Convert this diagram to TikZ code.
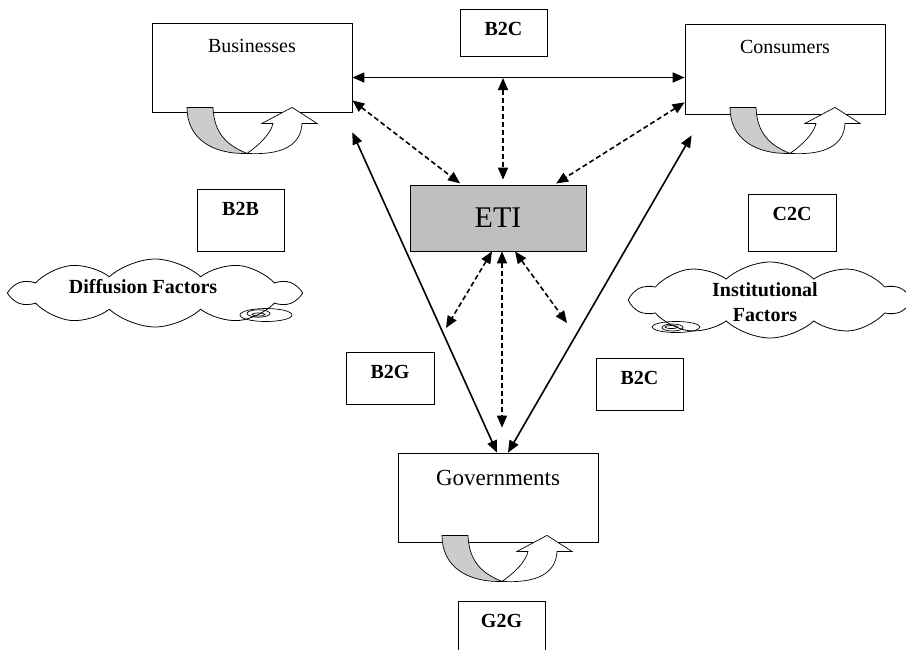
\documentclass[tikz,border=0pt]{standalone}
\usepackage{fontspec}
\setmainfont{Liberation Serif}
\usepackage{tikz}
\usetikzlibrary{shapes.symbols, arrows.meta}
\newcommand{\actorfont}{\fontsize{20}{24}\selectfont}
\newcommand{\dealfont}{\fontsize{20}{25}\selectfont\bfseries}
\tikzstyle{actor} = [rectangle, minimum width=200pt, minimum height=89pt, draw=black, line width=0.8pt]
\tikzstyle{actortext} = [anchor=center, yshift=-23pt, font=\actorfont, inner sep=0pt]
\tikzstyle{platform} = [rectangle, minimum width=176pt, minimum height=66pt, draw=black, line width=0.8pt, fill=gray!50, font=\fontsize{30}{36}\selectfont]
\tikzstyle{deal} = [rectangle, minimum width=87pt, minimum height=52pt, draw=black, line width=0.8pt]
\tikzstyle{dealtext} = [anchor=center, yshift=-20pt, font=\dealfont, inner sep=0pt]
\tikzstyle{factor} = [cloud, cloud puffs=10, cloud puff arc=85, cloud ignores aspect, draw=black, line width=0.8pt]
\tikzstyle{arrow} = [line width=1.6pt, {Triangle[length=12pt,width=10pt]}-{Triangle[length=12pt,width=10pt]}]
\tikzstyle{dasharrow} = [arrow, dash pattern=on 5pt off 3pt]
\tikzset{uturn/.pic={
  \draw[fill=white, line width=0.7pt] (0,0) .. controls (12,-8) and (24,-20) .. (26,-30) -- (15,-30) -- (45,-46) -- (70,-30) -- (55,-30) .. controls (54,-8) and (35,2) .. (0,0) -- cycle;
  \draw[fill=gray!40, line width=0.7pt] (-60,-46) .. controls (-60,-15) and (-35,1) .. (0,0) .. controls (-20,-8) and (-33,-20) .. (-34,-46) -- cycle;
}}
\begin{document}
\begin{tikzpicture}[x=1pt, y=-1pt]
	\useasboundingbox (0,0) rectangle (906,649);

		% Draw the nodes
		\node (bus) [actor, label={[actortext]north:Businesses}] at (252,67.5) {};
		\node (con) [actor, minimum height=90pt, label={[actortext]north:Consumers}] at (785,69) {};
		\node (gov) [actor, label={[actortext, yshift=-2pt, font=\fontsize{23}{28}\selectfont]north:Governments}] at (498,497.5) {};
		\node (eti) [platform] at (498,218) {ETI};
		\node (b2ctop) [deal, minimum height=47pt, label={[dealtext]north:B2C}] at (503.5,32.5) {};
		\node (b2b) [deal, minimum height=62pt, label={[dealtext]north:B2B}] at (240.5,220) {};
		\node (c2c) [deal, minimum width=88pt, minimum height=57pt, label={[dealtext]north:C2C}] at (792,222.5) {};
		\node (b2g) [deal, minimum width=88pt, label={[dealtext]north:B2G}] at (390,378) {};
		\node (b2clow) [deal, label={[dealtext]north:B2C}] at (639.5,384) {};
		\node (g2g) [deal, label={[dealtext]north:G2G}] at (501.5,627) {};
		\node (diff) [factor, minimum width=285pt, minimum height=68pt] at (155,293) {};
		\node (difftext) [font=\dealfont] at (143,287) {Diffusion Factors};
		\node (inst) [factor, minimum width=275pt, minimum height=76pt] at (770,300) {};
		\node (insttext) [font=\dealfont, align=center] at (765,302) {Institutional\\Factors};

		% cloud tails
		\draw [line width=0.7pt] (266,315) ellipse [x radius=26, y radius=6.5];
		\draw [line width=0.7pt] (258.5,313.5) ellipse [x radius=11.5, y radius=3.7];
		\draw [line width=0.7pt] (258.5,314.5) ellipse [x radius=6.5, y radius=1.5];
		\draw [line width=0.7pt] (676,327) ellipse [x radius=24, y radius=5.5];
		\draw [line width=0.7pt] (672.5,327.5) ellipse [x radius=10.5, y radius=3.5];
		\draw [line width=0.7pt] (671.5,327) ellipse [x radius=6.5, y radius=1.5];

		% u-turns under the actors
		\pic at ([shift={(-5,41)}]bus.south) {uturn};
		\pic at ([shift={(5,39)}]con.south) {uturn};
		\pic at ([shift={(4,39)}]gov.south) {uturn};

		%Draw the arrows
		\coordinate (hub) at (503,78);
		\coordinate (lft) at (446,328);
		\coordinate (rgt) at (567,323);
		\draw [arrow] ([yshift=-10pt]bus.east) -- ([yshift=-10pt]bus.east -| con.west);
		\draw [dasharrow, shorten >=5pt] (hub) -- (hub |- eti.north);
		\draw [dasharrow, shorten >=2pt] ([yshift=12pt]bus.south east) -- ([xshift=52pt]eti.north west);
		\draw [dasharrow, shorten >=2pt] ([yshift=12pt]con.south west) -- ([xshift=-32pt]eti.north east);
		\draw [arrow] ([yshift=-20pt]bus.south east) -- ([xshift=-1pt]gov.north);
		\draw [arrow] ([shift={(7pt,-21pt)}]con.south west) -- ([xshift=10pt]gov.north);
		\draw [dasharrow] ([xshift=-6pt]eti.south) -- (lft);
		\draw [dasharrow, shorten >=25pt] ([xshift=4pt]eti.south) -- ([xshift=4pt]eti.south |- gov.north);
		\draw [dasharrow] ([xshift=17pt]eti.south) -- (rgt);

	\end{tikzpicture}
\end{document}
